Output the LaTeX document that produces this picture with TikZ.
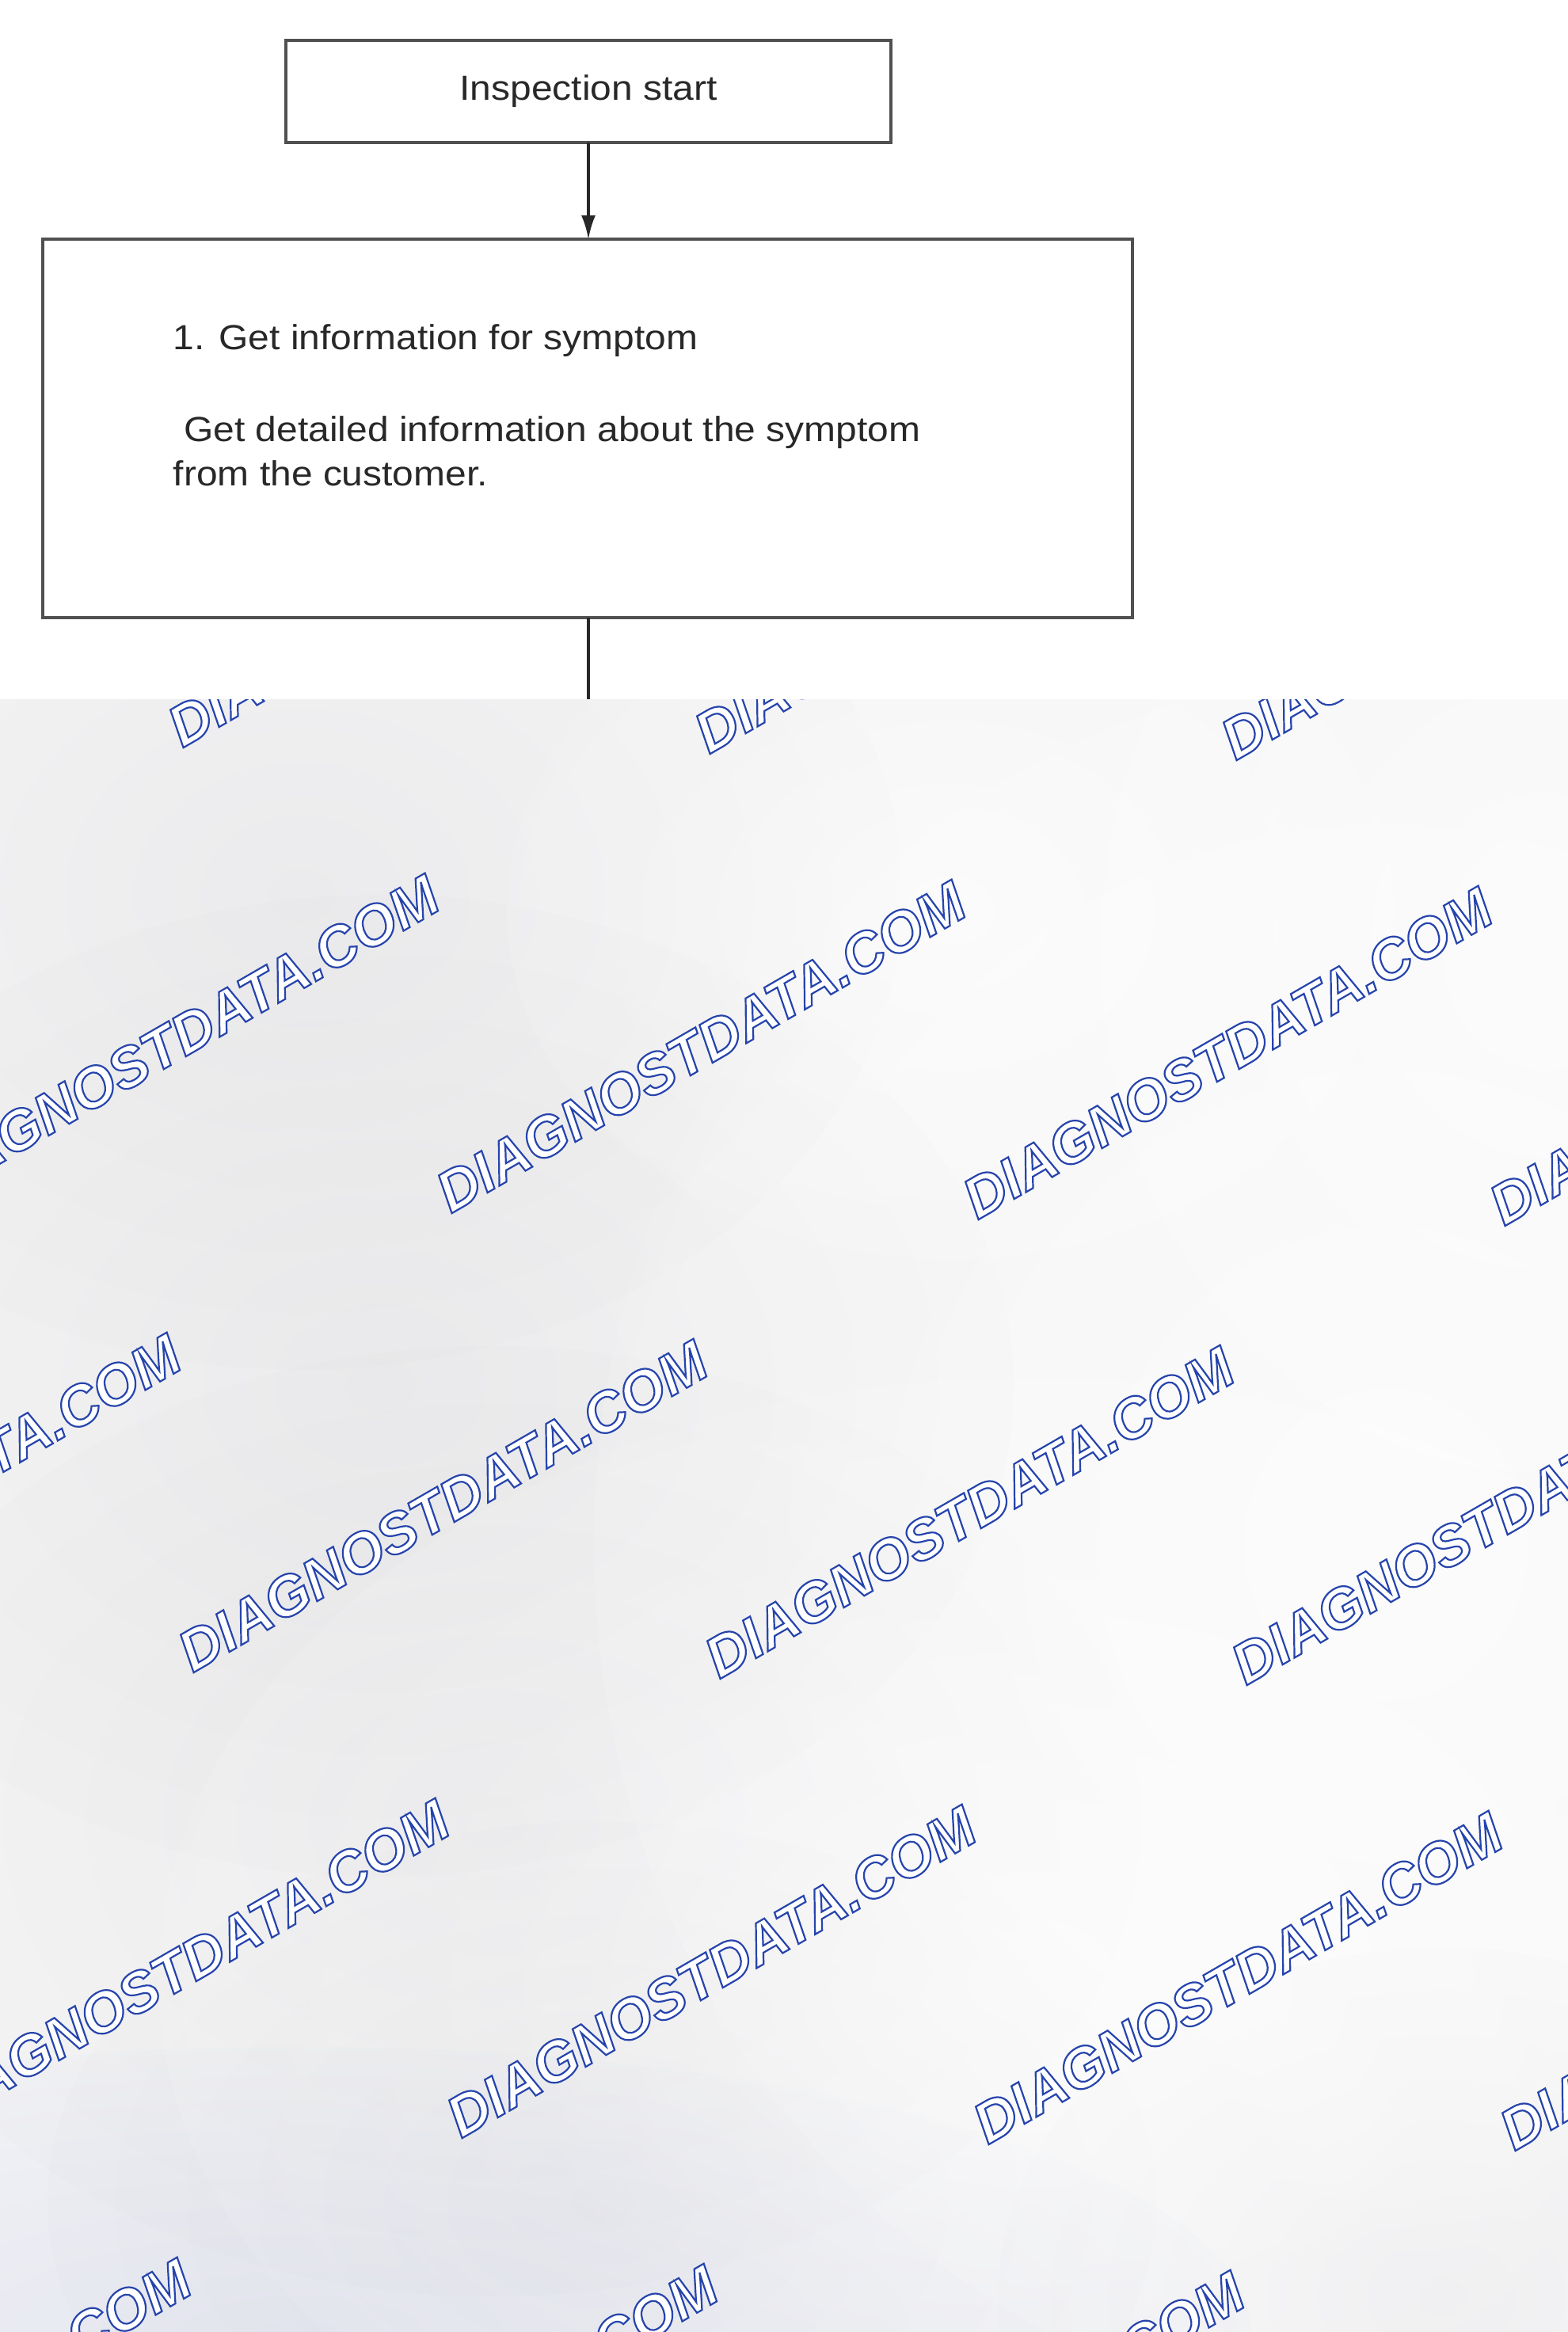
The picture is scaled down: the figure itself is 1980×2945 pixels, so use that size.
\documentclass[tikz,border=0pt]{standalone}
\usepackage{fontspec}
\setmainfont{Liberation Sans}
\newfontfamily\boxfont[FakeStretch=1.09]{Liberation Sans}
\newfontfamily\wmfont{Liberation Sans}
\usetikzlibrary{arrows.meta}
\definecolor{wmblue}{RGB}{38,68,172}
\definecolor{lineg}{RGB}{80,80,80}
\definecolor{connc}{RGB}{40,40,40}
\definecolor{txtg}{RGB}{40,40,40}
\definecolor{bgg}{RGB}{245,245,246}
\definecolor{blobdk}{RGB}{245,245,246}
\definecolor{blobmd}{RGB}{250,250,250}
\definecolor{blobbl}{RGB}{240,242,250}
\pgfdeclareradialshading{darkblob}{\pgfpoint{0bp}{0bp}}{color(0bp)=(blobdk); color(14bp)=(blobmd); color(30bp)=(white); color(50bp)=(white)}
\pgfdeclareradialshading{blueblob}{\pgfpoint{0bp}{0bp}}{color(0bp)=(blobbl); color(16bp)=(blobbl!50!white); color(30bp)=(white); color(50bp)=(white)}
\pgfdeclareradialshading{lightblob}{\pgfpoint{0bp}{0bp}}{color(0bp)=(black!50); color(16bp)=(black!85); color(30bp)=(black); color(50bp)=(black)}
\newcommand\outlinetext[1]{\color{white}\special{pdf:literal direct 2 Tr 0.55 w 0.149 0.267 0.675 RG}#1\special{pdf:literal direct 0 Tr}}
\begin{document}
\begin{tikzpicture}[x=0.25pt,y=-0.25pt,
  flowbox/.style={draw=lineg, line width=1pt, inner sep=0pt, outer sep=0pt},
  boxtext/.style={font=\boxfont\fontsize{11}{13}\selectfont, text=txtg, inner sep=0pt},
  conn/.style={draw=connc, line width=0.8pt},
  wmark/.style={rotate=30, inner sep=0pt, font=\wmfont\bfseries\itshape\fontsize{18}{20}\selectfont},
  dkblob/.style={shading=darkblob, blend mode=multiply},
  blblob/.style={shading=blueblob, blend mode=multiply},
  ltblob/.style={shading=lightblob, blend mode=screen},
]
\useasboundingbox (0,0) rectangle (1980,2945);
\fill[white] (0,0) rectangle (1980,883);
\begin{scope}
  \clip (0,883) rectangle (1980,2945);
  \fill[bgg] (0,883) rectangle (1980,2945);
  \shade[dkblob] (380,1130) ellipse [x radius=760, y radius=600];
  \shade[dkblob] (480,1750) ellipse [x radius=800, y radius=620];
  \shade[dkblob] (620,2300) ellipse [x radius=820, y radius=600];
  \shade[dkblob] (760,2780) ellipse [x radius=700, y radius=480];
  \shade[dkblob] (1820,2900) ellipse [x radius=560, y radius=440];
  \shade[blblob] (380,2945) ellipse [x radius=1200, y radius=360];
  \shade[ltblob] (1750,1950) ellipse [x radius=1000, y radius=1100];
  \shade[ltblob] (1300,2500) ellipse [x radius=1100, y radius=760];
  \shade[ltblob] (1200,1150) ellipse [x radius=560, y radius=440];
  \shade[ltblob] (1950,1200) ellipse [x radius=560, y radius=660];
  \foreach \j in {-1,...,3} {
    \foreach \i in {-1,...,3} {
      \pgfmathsetmacro\cx{885+665*\i-326*\j}
      \pgfmathsetmacro\cy{1322+8*\i+580*\j}
      \node[wmark] (wm\i\j) at (\cx,\cy) {\outlinetext{DIAGNOSTDATA.COM}};
    }
  }
\end{scope}
\node[flowbox, boxtext, minimum width=191pt, minimum height=32.25pt] (start) at (743,115.5) {Inspection start};
\node[flowbox, minimum width=344pt, minimum height=119.5pt] (step1) at (742,541) {};
\node[boxtext, anchor=base west] (t1a) at (218,441) {1. Get information for symptom};
\node[boxtext, anchor=base west] (t1b) at (218,557) {\ Get detailed information about the symptom};
\node[boxtext, anchor=base west] (t1c) at (218,613) {from the customer.};
\coordinate (c1) at (743,883);
\draw[conn, -{Latex[length=7.5pt, width=4.5pt]}] (start.south) -- (start.south |- step1.north);
\draw[conn] (start.south |- step1.south) -- (c1);
\end{tikzpicture}
\end{document}
